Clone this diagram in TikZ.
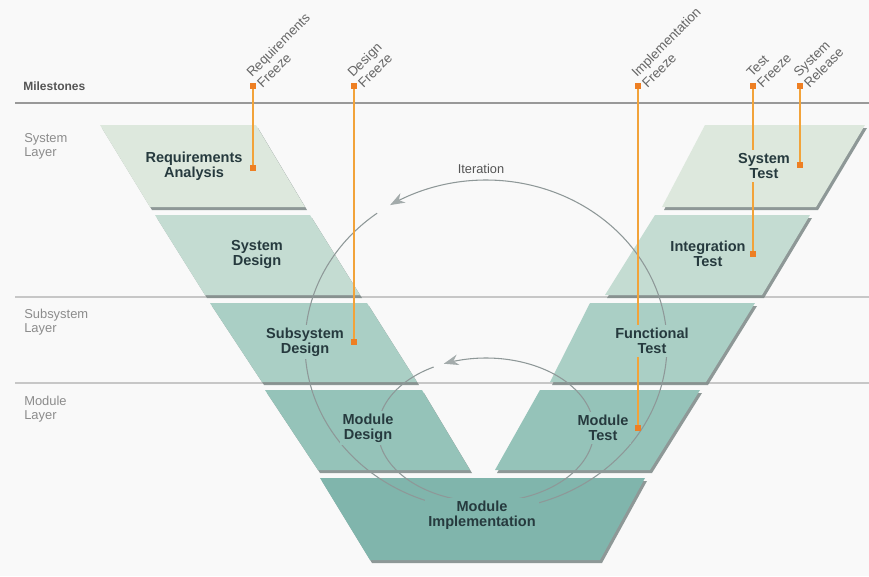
\documentclass[tikz,border=0pt]{standalone}
\usepackage{fontspec}
\setmainfont{Liberation Sans}
\usetikzlibrary{arrows.meta}
\definecolor{bgc}{HTML}{F9F9F9}
\definecolor{cA}{HTML}{DDE8DD}
\definecolor{cB}{HTML}{C4DCD2}
\definecolor{cC}{HTML}{AACFC5}
\definecolor{cD}{HTML}{95C3B9}
\definecolor{cE}{HTML}{80B5AC}
\definecolor{shadowc}{HTML}{7C8886}
\definecolor{txtc}{HTML}{263A3E}
\definecolor{layerc}{HTML}{8C8C8C}
\definecolor{milec}{HTML}{555555}
\definecolor{orangeline}{HTML}{F2A33A}
\definecolor{orangesq}{HTML}{EE7F23}
\definecolor{arcc}{HTML}{8E9898}
\definecolor{tipc}{HTML}{A3ABAB}
\newcommand\vshapebox[5]{%
  \fill[shadowc,opacity=0.85,shift={(2,3)}] #1 -- #2 -- #3 -- #4 -- cycle;
  \fill[#5] #1 -- #2 -- #3 -- #4 -- cycle;}
\begin{document}
\begin{tikzpicture}[x=0.75pt,y=-0.75pt,
  boxtxt/.style={font=\fontsize{10.9}{11.2}\selectfont\bfseries, text=txtc, align=center, inner sep=2.2pt},
  layerlbl/.style={font=\fontsize{9.7}{10.5}\selectfont, text=layerc, align=left, inner sep=0pt},
  mslbl/.style={font=\fontsize{10}{10}\selectfont, text=milec!90, rotate=45, inner sep=0pt, anchor=base west},
  mline/.style={draw=black!40, line width=1.5pt},
  lline/.style={draw=black!22, line width=1pt},
  oline/.style={draw=orangeline, line width=1.5pt},
  osq/.style={fill=orangesq, minimum size=4.5pt, inner sep=0pt, draw=none},
  itarc/.style={draw=arcc, line width=0.8pt},
  ittip/.style={-{Stealth[length=11pt,width=8pt,inset=3.5pt,color=tipc]}}
]
\useasboundingbox (0,0) rectangle (869,576);
\fill[bgc] (0,0) rectangle (869,576);

% layer lines
\draw[mline] (15,103) -- (869,103);
\draw[lline] (15,297) -- (869,297);
\draw[lline] (15,383) -- (869,383);

% layer labels
\node[font=\fontsize{9}{10}\selectfont\bfseries, text=milec, anchor=west, inner sep=0pt] (lms) at (23,86) {Milestones};
\node[layerlbl, anchor=north west] (lsys) at (24,133) {System\\Layer};
\node[layerlbl, anchor=north west] (lsub) at (24,309) {Subsystem\\Layer};
\node[layerlbl, anchor=north west] (lmod) at (24,396) {Module\\Layer};

% V shapes
\vshapebox{(100,125)}{(256,125)}{(305,207)}{(150,207)}{cA}
\vshapebox{(155,215)}{(310,215)}{(360,295)}{(205,295)}{cB}
\vshapebox{(210,303)}{(367,303)}{(417,382)}{(262,382)}{cC}
\vshapebox{(265,390)}{(422,390)}{(470,470)}{(318,470)}{cD}
\vshapebox{(320,478)}{(645,478)}{(600,560)}{(370,560)}{cE}
\vshapebox{(540,390)}{(700,390)}{(650,470)}{(495,470)}{cD}
\vshapebox{(590,303)}{(755,303)}{(706,382)}{(550,382)}{cC}
\vshapebox{(655,215)}{(810,215)}{(762,295)}{(605,295)}{cB}
\vshapebox{(705,125)}{(865,125)}{(816,207)}{(662,207)}{cA}

% iteration arcs
\draw[itarc, ittip] plot[domain=-80:122, samples=150, smooth] ({486+181*cos(\x)},{345-165*sin(\x)});
\draw[itarc] plot[domain=127:260, samples=100, smooth] ({486+181*cos(\x)},{345-165*sin(\x)});
\draw[itarc, ittip] plot[domain=-75:113, samples=120, smooth] ({486+108*cos(\x)},{430-72*sin(\x)});
\draw[itarc] plot[domain=119:255, samples=100, smooth] ({486+108*cos(\x)},{430-72*sin(\x)});
\node[font=\fontsize{9.6}{10}\selectfont, text=milec, inner sep=0pt] (iter) at (481,169) {Iteration};

% milestone markers
\coordinate (m1a) at (253,86);  \coordinate (m1b) at (253,168);
\coordinate (m2a) at (354,86);  \coordinate (m2b) at (354,342);
\coordinate (m3a) at (638,86);  \coordinate (m3b) at (638,428);
\coordinate (m4a) at (753,86);  \coordinate (m4b) at (753,254);
\coordinate (m5a) at (800,86);  \coordinate (m5b) at (800,165);
\foreach \m in {m1,m2,m3,m4,m5}{
  \draw[oline] (\m a) -- (\m b);
  \node[osq] at (\m a) {};
  \node[osq] at (\m b) {};
}

% milestone labels
\node[mslbl] (r1) at ([shift={(-1,-8)}]m1a) {Requirements};
\node[mslbl] (r2) at ([shift={(9.5,2.5)}]m1a) {Freeze};
\node[mslbl] (d1) at ([shift={(-1,-8)}]m2a) {Design};
\node[mslbl] (d2) at ([shift={(9.5,2.5)}]m2a) {Freeze};
\node[mslbl] (i1) at ([shift={(-1,-8)}]m3a) {Implementation};
\node[mslbl] (i2) at ([shift={(9.5,2.5)}]m3a) {Freeze};
\node[mslbl] (t1) at ([shift={(-1,-8)}]m4a) {Test};
\node[mslbl] (t2) at ([shift={(9.5,2.5)}]m4a) {Freeze};
\node[mslbl] (s1) at ([shift={(-1,-8)}]m5a) {System};
\node[mslbl] (s2) at ([shift={(9.5,2.5)}]m5a) {Release};

% box texts
\node[boxtxt, fill=cA] (ra) at (194,166) {Requirements\\Analysis};
\node[boxtxt, fill=cB] (sd) at (257,254) {System\\Design};
\node[boxtxt, fill=cC] (ssd) at (305,342) {Subsystem\\Design};
\node[boxtxt, fill=cD] (md) at (368,428) {Module\\Design};
\node[boxtxt, fill=cE] (mi) at (482,515) {Module\\Implementation};
\node[boxtxt, fill=cD] (mt) at (603,428) {Module\\Test};
\node[boxtxt, fill=cC] (ft) at (652,341) {Functional\\Test};
\node[boxtxt, fill=cB] (it) at (708,254) {Integration\\Test};
\node[boxtxt, fill=cA] (st) at (764,166) {System\\Test};
\end{tikzpicture}
\end{document}
